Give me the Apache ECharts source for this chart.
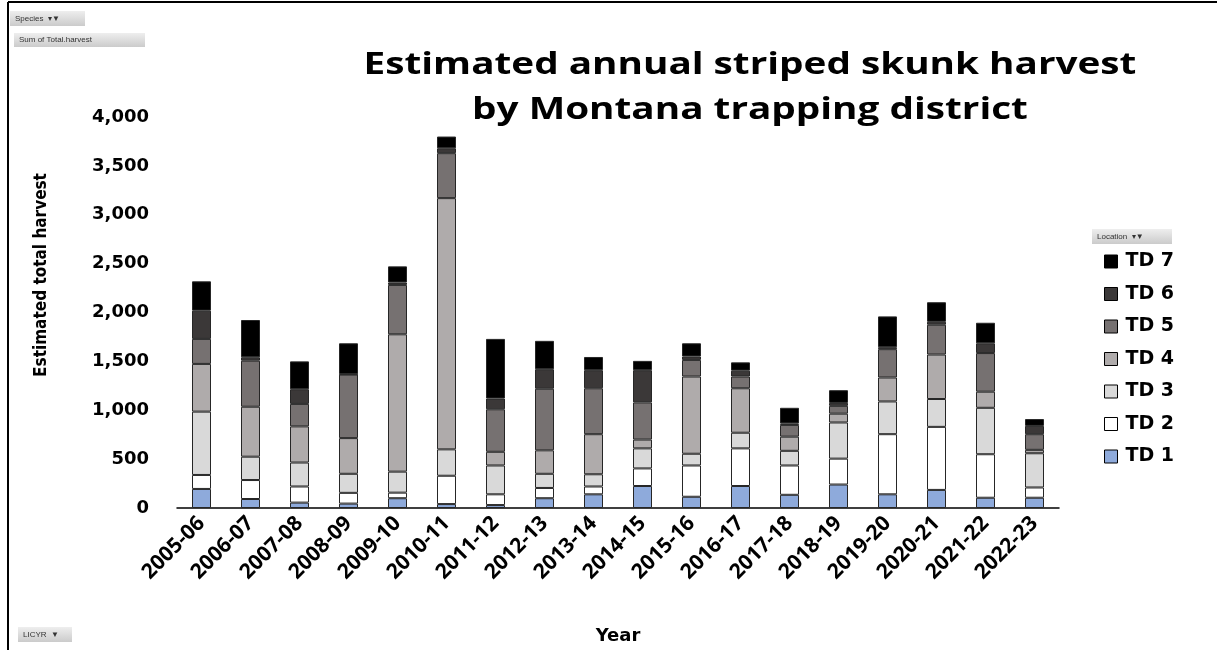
<!DOCTYPE html>
<html>
<head>
<meta charset="utf-8">
<script src="https://cdn.jsdelivr.net/npm/echarts@6/dist/echarts.min.js"></script>
<style>
html, body { margin: 0; padding: 0; background: #fff; }
#main { width: 1217px; height: 650px; }
</style>
</head>
<body>
<div id="main"></div>
<script>
// years on the x axis
var years = ['2005-06','2006-07','2007-08','2008-09','2009-10','2010-11','2011-12','2012-13','2013-14',
             '2014-15','2015-16','2016-17','2017-18','2018-19','2019-20','2020-21','2021-22','2022-23'];

// harvest by trapping district
var td1 = [195, 92, 55, 45, 100, 40, 30, 100, 140, 225, 115, 225, 135, 240, 140, 185, 105, 105];
var td2 = [143, 194, 165, 110, 57, 290, 110, 105, 80, 180, 320, 385, 300, 265, 615, 645, 445, 105];
var td3 = [648, 239, 245, 195, 215, 270, 295, 145, 125, 205, 120, 160, 150, 370, 335, 285, 475, 350];
var td4 = [488, 511, 370, 365, 1405, 2570, 140, 240, 410, 90, 790, 455, 145, 90, 245, 455, 165, 35];
var td5 = [256, 471, 230, 650, 505, 460, 435, 630, 470, 380, 170, 120, 120, 80, 290, 305, 395, 160];
var td6 = [289, 35, 150, 5, 25, 50, 110, 200, 185, 330, 35, 60, 15, 30, 20, 30, 100, 85];
var td7 = [300, 381, 285, 315, 165, 120, 610, 290, 135, 95, 135, 85, 160, 130, 315, 200, 210, 70];

var names = ['TD 1','TD 2','TD 3','TD 4','TD 5','TD 6','TD 7'];
var colors = ['#8eaadb','#ffffff','#d9d9d9','#afabab','#767171','#3b3838','#000000'];
var allData = [td1, td2, td3, td4, td5, td6, td7];

// the little pivot-table buttons
function button(x, y, w, h, label) {
	return {
		type: 'group', left: x, top: y,
		children: [
			{ type: 'rect', shape: { x: 0, y: 0, width: w, height: h },
			  style: { fill: new echarts.graphic.LinearGradient(0, 0, 0, 1, [
			      { offset: 0, color: '#eeeeee' }, { offset: 1, color: '#cbcbcb' }]) } },
			{ type: 'text', x: 5, y: h / 2,
			  style: { text: label, fill: '#333', font: '8px "Liberation Sans", sans-serif', verticalAlign: 'middle' } }
		]
	};
}

var series = [];
for (var i = 0; i < names.length; i++) {
	series.push({
		name: names[i],
		type: 'bar',
		stack: 'total',
		barWidth: 19,
		data: allData[i],
		itemStyle: { color: colors[i], borderColor: '#262626', borderWidth: 1 }
	});
}

var titleFont = 'bold 30px "Open Sans", sans-serif';

var option = {
	animation: false,
	backgroundColor: '#fff',
	legend: {
		orient: 'vertical',
		left: 1099, top: 247,
		icon: 'rect',
		itemWidth: 13, itemHeight: 13, itemGap: 13.5,
		data: ['TD 7','TD 6','TD 5','TD 4','TD 3','TD 2','TD 1'],
		itemStyle: { borderColor: '#000', borderWidth: 1 },
		textStyle: { fontFamily: 'DejaVu Sans', fontWeight: 'bold', fontSize: 19, color: '#000', padding: [0, 0, 0, 3] }
	},
	grid: { left: 177, right: 158, top: 117, bottom: 142 },
	xAxis: {
		type: 'category',
		data: years,
		name: 'Year',
		nameLocation: 'middle',
		nameGap: 119,
		nameTextStyle: { fontFamily: 'DejaVu Sans', fontWeight: 'bold', fontSize: 18, color: '#000' },
		axisLine: { lineStyle: { color: '#000', width: 1.5 } },
		axisTick: { show: false },
		axisLabel: { rotate: 45, margin: 12, interval: 0, color: '#000',
		             fontFamily: 'Open Sans', fontWeight: 'bold', fontSize: 21 }
	},
	yAxis: {
		type: 'value',
		min: 0, max: 4000, interval: 500,
		axisLine: { show: false },
		axisTick: { show: false },
		splitLine: { show: false },
		axisLabel: {
			margin: 28, color: '#000',
			fontFamily: 'DejaVu Sans', fontWeight: 'bold', fontSize: 18,
			formatter: function (v) { return v.toLocaleString('en-US'); }
		}
	},
	graphic: [
		{ type: 'line', shape: { x1: 8, y1: 2, x2: 1217, y2: 2 }, style: { stroke: '#000', lineWidth: 2 } },
		{ type: 'line', shape: { x1: 8, y1: 2, x2: 8, y2: 650 }, style: { stroke: '#000', lineWidth: 2 } },
		// chart title, stretched a bit wider like the original
		{ type: 'text', x: 750, y: 65, scaleX: 1.29,
		  style: { text: 'Estimated annual striped skunk harvest', fill: '#000', align: 'center',
		           verticalAlign: 'middle', font: titleFont } },
		{ type: 'text', x: 750, y: 110, scaleX: 1.29,
		  style: { text: 'by Montana trapping district', fill: '#000', align: 'center',
		           verticalAlign: 'middle', font: titleFont } },
		{ type: 'text', x: 42, y: 275, rotation: Math.PI / 2,
		  style: { text: 'Estimated total harvest', fill: '#000', align: 'center', verticalAlign: 'middle',
		           font: 'bold 17px "Liberation Sans Narrow", "DejaVu Sans Condensed", sans-serif' } },
		button(10, 11, 75, 15, 'Species  ▾▼'),
		button(14, 33, 131, 14, 'Sum of Total.harvest'),
		button(1092, 229, 80, 15, 'Location  ▾▼'),
		button(18, 627, 54, 15, 'LICYR  ▼')
	],
	series: series
};

var myChart = echarts.init(document.getElementById('main'));
myChart.setOption(option);
</script>
</body>
</html>
